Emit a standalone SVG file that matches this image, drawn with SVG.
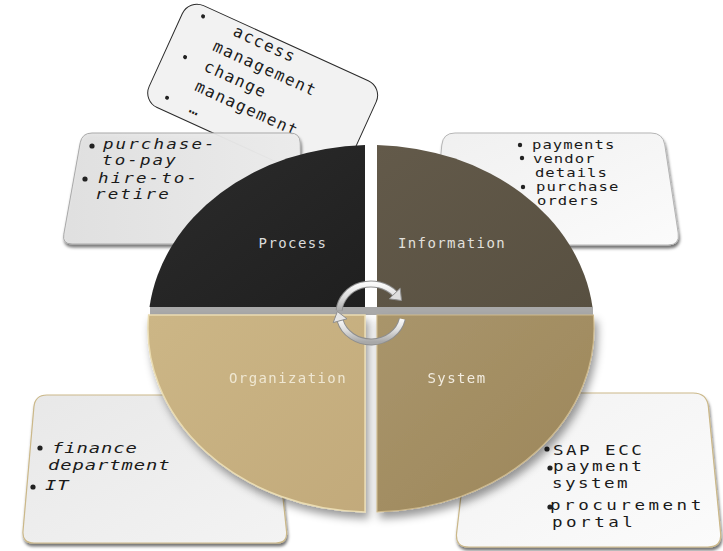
<svg xmlns="http://www.w3.org/2000/svg" width="723" height="551" viewBox="0 0 723 551">
  <defs>
    <style>
      .mono { font-family: "DejaVu Sans Mono", "Liberation Mono", monospace; }
      .card-txt { fill: #1a1a1a; }
      .dot { fill: #222222; }
      .lbl { font-family: "DejaVu Sans Mono", "Liberation Mono", monospace; font-size: 14px; letter-spacing: 1.4px; text-anchor: middle; }
    </style>
    <linearGradient id="gTL" x1="0" y1="0" x2="1" y2="0">
      <stop offset="0" stop-color="#e2e2e2"/>
      <stop offset="1" stop-color="#eeeeee"/>
    </linearGradient>
    <linearGradient id="gTR" x1="0" y1="0" x2="1" y2="1">
      <stop offset="0" stop-color="#f0f0f0"/>
      <stop offset="1" stop-color="#fbfbfb"/>
    </linearGradient>
    <linearGradient id="gBL" x1="0" y1="0" x2="1" y2="1">
      <stop offset="0" stop-color="#e8e8e8"/>
      <stop offset="1" stop-color="#f3f3f3"/>
    </linearGradient>
    <linearGradient id="gBR" x1="0" y1="0" x2="1" y2="1">
      <stop offset="0" stop-color="#f2f2f2"/>
      <stop offset="1" stop-color="#fbfbfb"/>
    </linearGradient>
    <linearGradient id="gProc" x1="0" y1="0" x2="1" y2="1">
      <stop offset="0" stop-color="#2c2c2c"/>
      <stop offset="1" stop-color="#1f1f1f"/>
    </linearGradient>
    <linearGradient id="gInfo" x1="0" y1="0" x2="1" y2="1">
      <stop offset="0" stop-color="#635a4a"/>
      <stop offset="1" stop-color="#585041"/>
    </linearGradient>
    <linearGradient id="gOrg" x1="0" y1="0" x2="1" y2="1">
      <stop offset="0" stop-color="#ccb686"/>
      <stop offset="1" stop-color="#c2aa7b"/>
    </linearGradient>
    <linearGradient id="gSys" x1="0" y1="0" x2="1" y2="1">
      <stop offset="0" stop-color="#a9956b"/>
      <stop offset="1" stop-color="#9c865a"/>
    </linearGradient>
    <linearGradient id="gArrow" x1="0" y1="0" x2="0" y2="1">
      <stop offset="0" stop-color="#fafafa"/>
      <stop offset="0.5" stop-color="#dcdcdc"/>
      <stop offset="1" stop-color="#a8a8a8"/>
    </linearGradient>
    <filter id="cardShadow" x="-10%" y="-10%" width="120%" height="130%">
      <feDropShadow dx="1" dy="3" stdDeviation="1.5" flood-color="#000" flood-opacity="0.55"/>
    </filter>
    <filter id="discShadow" x="-10%" y="-10%" width="125%" height="130%">
      <feDropShadow dx="3" dy="6" stdDeviation="4" flood-color="#000" flood-opacity="0.4"/>
    </filter>
  </defs>

  <rect width="723" height="551" fill="#ffffff"/>

  <!-- tilted note card (behind the others) -->
  <g id="note-governance" transform="translate(189,-1) rotate(24.5)">
    <rect x="0" y="0" width="213" height="112" rx="16" fill="#f2f2f2" stroke="#2a2a2a" stroke-width="1"/>
    <circle class="dot" cx="20" cy="10" r="2"/>
    <circle class="dot" cx="20.5" cy="54.5" r="2"/>
    <circle class="dot" cx="21" cy="99" r="2"/>
    <text class="mono card-txt" font-size="16" letter-spacing="1.6">
      <tspan x="54" y="15">access</tspan>
      <tspan x="42" y="37">management</tspan>
      <tspan x="42" y="59">change</tspan>
      <tspan x="42" y="81">management</tspan>
      <tspan x="46" y="103">…</tspan>
    </text>
  </g>

  <!-- process card (card text is stretched horizontally to a wide mono face) -->
  <g id="card-process">
    <path d="M92,133 L290,133 Q300,133 300.2,143 L301.8,234 Q302,244 292,244 L72,244 Q62,244 63.8,234.2 L80.2,142.8 Q82,133 92,133 Z" fill="url(#gTL)" fill-opacity="0.94" stroke="#a9a9a9" stroke-width="1" filter="url(#cardShadow)"/>
    <circle class="dot" cx="92" cy="146" r="2.6"/>
    <circle class="dot" cx="85" cy="179" r="2.6"/>
    <text class="mono card-txt" transform="scale(1.3,1)" font-size="13.5" font-style="italic" letter-spacing="1.6">
      <tspan x="79.2" y="149">purchase-</tspan>
      <tspan x="78.5" y="165">to-pay</tspan>
      <tspan x="75.4" y="183">hire-to-</tspan>
      <tspan x="73.1" y="199">retire</tspan>
    </text>
  </g>

  <!-- information card -->
  <g id="card-information">
    <path d="M455,133 L651,133 Q663,133 664.8,144.9 L678.2,233.1 Q680,245 668,245 L444,245 Q432,245 433.2,233 L441.8,145 Q443,133 455,133 Z" fill="url(#gTR)" stroke="#b5b5b5" stroke-width="1" filter="url(#cardShadow)"/>
    <circle class="dot" cx="520" cy="145" r="2.2"/>
    <circle class="dot" cx="522" cy="158" r="2.2"/>
    <circle class="dot" cx="523" cy="187" r="2.2"/>
    <text class="mono card-txt" transform="scale(1.3,1)" font-size="12" letter-spacing="0.8">
      <tspan x="409.2" y="149">payments</tspan>
      <tspan x="410" y="163">vendor</tspan>
      <tspan x="411.5" y="177">details</tspan>
      <tspan x="412.3" y="191">purchase</tspan>
      <tspan x="413.1" y="205">orders</tspan>
    </text>
  </g>

  <!-- organization card -->
  <g id="card-organization">
    <path d="M47,395 L260,395 Q272,395 273.5,407 L286.5,531 Q288,543 276,543 L34,543 Q22,543 23,531 L33.9,407 Q35,395 47,395 Z" fill="url(#gBL)" stroke="#cbb889" stroke-width="1.2" filter="url(#cardShadow)"/>
    <circle class="dot" cx="40" cy="448" r="2.6"/>
    <circle class="dot" cx="33" cy="487" r="2.6"/>
    <text class="mono card-txt" transform="scale(1.3,1)" font-size="14.5" font-style="italic" letter-spacing="0.7">
      <tspan x="40" y="453">finance</tspan>
      <tspan x="36.9" y="470">department</tspan>
      <tspan x="34.6" y="490">IT</tspan>
    </text>
  </g>

  <!-- system card -->
  <g id="card-system">
    <path d="M487,393 L693,393 Q707,393 708.4,406.9 L720.6,533.1 Q722,547 708,547 L469,547 Q455,547 456.6,533.1 L471.4,406.9 Q473,393 487,393 Z" fill="url(#gBR)" stroke="#cbb889" stroke-width="1.2" filter="url(#cardShadow)"/>
    <circle class="dot" cx="547" cy="449" r="2.6"/>
    <circle class="dot" cx="550" cy="468" r="2.6"/>
    <circle class="dot" cx="550" cy="507" r="2.6"/>
    <text class="mono card-txt" transform="scale(1.3,1)" font-size="13.5" letter-spacing="1.9">
      <tspan x="425.4" y="455">SAP ECC</tspan>
      <tspan x="425.4" y="471">payment</tspan>
      <tspan x="424.6" y="488">system</tspan>
      <tspan x="423.1" y="510" letter-spacing="2.7">procurement</tspan>
      <tspan x="424.6" y="527" letter-spacing="2.7">portal</tspan>
    </text>
  </g>

  <!-- disc: shaded band under the upper half -->
  <rect x="150" y="307" width="443" height="8" fill="#a9a9a9"/>

  <!-- disc quadrants -->
  <g id="q-organization" filter="url(#discShadow)">
    <path d="M148.6,315 A223,183.5 0 0 0 365,511.9 L365,315 Z" fill="url(#gOrg)" stroke="#eadcb2" stroke-width="1.5"/>
    <text class="lbl" x="288" y="383" fill="#efe7d2">Organization</text>
  </g>
  <g id="q-system" filter="url(#discShadow)">
    <path d="M377,511.9 A223,183.5 0 0 0 593.4,315 L377,315 Z" fill="url(#gSys)" stroke="#cdb98d" stroke-width="1.2"/>
    <text class="lbl" x="457" y="383" fill="#f2ece0">System</text>
  </g>
  <g id="q-process">
    <path d="M149.5,307 A223,183.5 0 0 1 365,145.1 L365,307 Z" fill="url(#gProc)"/>
    <text class="lbl" x="293" y="248" fill="#dcdcdc">Process</text>
  </g>
  <g id="q-information">
    <path d="M377,145.1 A223,183.5 0 0 1 592.5,307 L377,307 Z" fill="url(#gInfo)"/>
    <text class="lbl" x="452" y="248" fill="#e2e0dc">Information</text>
  </g>

  <!-- cycle arrows at the centre -->
  <g id="connectors" fill="none" stroke-linecap="butt">
    <path d="M339.1,310.5 A32,29 0 0 1 394.8,293.6" stroke="#8e8e8e" stroke-width="7"/>
    <path d="M339.1,310.5 A32,29 0 0 1 394.8,293.6" stroke="url(#gArrow)" stroke-width="5"/>
    <polygon points="401.5,300.5 400.2,288.2 389.2,298.8" fill="#dedede" stroke="#8e8e8e" stroke-width="1"/>
    <path d="M402.3,319 A32,29 0 0 1 340.1,320.5" stroke="#8e8e8e" stroke-width="7"/>
    <path d="M402.3,319 A32,29 0 0 1 340.1,320.5" stroke="url(#gArrow)" stroke-width="5"/>
    <polygon points="337.4,311.5 347,318.8 333.2,322.6" fill="#e6e6e6" stroke="#8e8e8e" stroke-width="1"/>
  </g>
</svg>
